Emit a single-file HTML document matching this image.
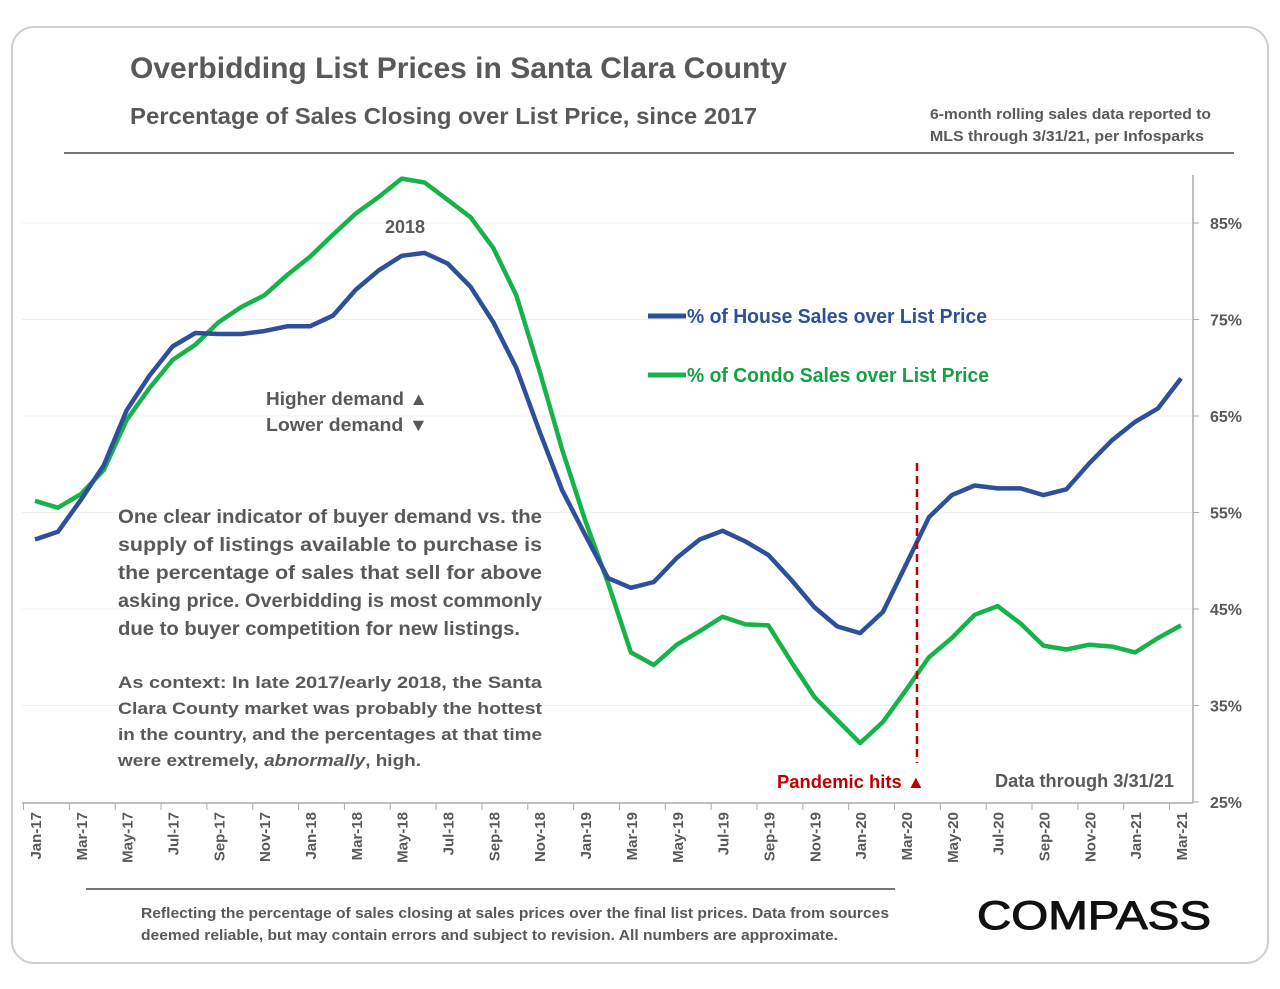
<!DOCTYPE html>
<html><head><meta charset="utf-8"><style>
body{margin:0;background:#fff;}
svg{display:block;font-family:"Liberation Sans","DejaVu Sans",sans-serif;}
</style></head><body>
<svg id="chart" width="1280" height="989" viewBox="0 0 1280 989">
<rect x="12" y="27" width="1256" height="936" rx="22" fill="#fff" stroke="#cfcfcf" stroke-width="2"/>
<text x="130" y="78" font-size="30" font-weight="bold" fill="#595959" textLength="657" lengthAdjust="spacingAndGlyphs">Overbidding List Prices in Santa Clara County</text>
<text x="130" y="124" font-size="23" font-weight="bold" fill="#595959" textLength="627" lengthAdjust="spacingAndGlyphs">Percentage of Sales Closing over List Price, since 2017</text>
<text x="930" y="119" font-size="14.5" font-weight="bold" fill="#595959" textLength="281" lengthAdjust="spacingAndGlyphs">6-month rolling sales data reported to</text>
<text x="930" y="141" font-size="14.5" font-weight="bold" fill="#595959" textLength="274" lengthAdjust="spacingAndGlyphs">MLS through 3/31/21, per Infosparks</text>
<line x1="64" y1="153" x2="1234" y2="153" stroke="#777" stroke-width="2"/>
<g id="grid"></g><g id="axes"></g><g id="series"></g>
<text x="385" y="233" font-size="18" font-weight="bold" fill="#595959">2018</text>
<text x="266" y="405" font-size="18" font-weight="bold" fill="#595959" textLength="162" lengthAdjust="spacingAndGlyphs">Higher demand ▲</text>
<text x="266" y="431" font-size="18" font-weight="bold" fill="#595959" textLength="162" lengthAdjust="spacingAndGlyphs">Lower demand ▼</text>
<g>
<line x1="648" y1="316" x2="686" y2="316" stroke="#2e4f9a" stroke-width="5"/>
<text x="687" y="323" font-size="20" font-weight="bold" fill="#2e4f9a" textLength="300" lengthAdjust="spacingAndGlyphs">% of House Sales over List Price</text>
<line x1="648" y1="375" x2="686" y2="375" stroke="#17b34a" stroke-width="5"/>
<text x="687" y="382" font-size="20" font-weight="bold" fill="#17a043" textLength="302" lengthAdjust="spacingAndGlyphs">% of Condo Sales over List Price</text>
</g>
<g font-size="19" font-weight="bold" fill="#595959">
<text x="118" y="523" textLength="424" lengthAdjust="spacingAndGlyphs">One clear indicator of buyer demand vs. the</text>
<text x="118" y="551" textLength="424" lengthAdjust="spacingAndGlyphs">supply of listings available to purchase is</text>
<text x="118" y="579" textLength="424" lengthAdjust="spacingAndGlyphs">the percentage of sales that sell for above</text>
<text x="118" y="607" textLength="424" lengthAdjust="spacingAndGlyphs">asking price. Overbidding is most commonly</text>
<text x="118" y="635" textLength="402" lengthAdjust="spacingAndGlyphs">due to buyer competition for new listings.</text>
</g>
<g font-size="17" font-weight="bold" fill="#595959">
<text x="118" y="688" textLength="424" lengthAdjust="spacingAndGlyphs">As context: In late 2017/early 2018, the Santa</text>
<text x="118" y="714" textLength="424" lengthAdjust="spacingAndGlyphs">Clara County market was probably the hottest</text>
<text x="118" y="740" textLength="424" lengthAdjust="spacingAndGlyphs">in the country, and the percentages at that time</text>
<text x="118" y="766" textLength="303" lengthAdjust="spacingAndGlyphs">were extremely, <tspan font-style="italic">abnormally</tspan>, high.</text>
</g>
<line x1="917" y1="463" x2="917" y2="763" stroke="#c00000" stroke-width="2.5" stroke-dasharray="8,5"/>
<text x="777" y="788" font-size="18" font-weight="bold" fill="#c00000" textLength="148" lengthAdjust="spacingAndGlyphs">Pandemic hits ▲</text>
<text x="995" y="787" font-size="18" font-weight="bold" fill="#595959" textLength="179" lengthAdjust="spacingAndGlyphs">Data through 3/31/21</text>
<line x1="86" y1="889" x2="895" y2="889" stroke="#777" stroke-width="2"/>
<text x="141" y="918" font-size="14.5" font-weight="bold" fill="#595959" textLength="748" lengthAdjust="spacingAndGlyphs">Reflecting the percentage of sales closing at sales prices over the final list prices. Data from sources</text>
<text x="141" y="940" font-size="14.5" font-weight="bold" fill="#595959" textLength="697" lengthAdjust="spacingAndGlyphs">deemed reliable, but may contain errors and subject to revision. All numbers are approximate.</text>
<text x="977" y="929" font-size="40" fill="#111" stroke="#111" stroke-width="1" textLength="234" lengthAdjust="spacingAndGlyphs">COMPASS</text>
</svg>
<script>
const months=["Jan","Feb","Mar","Apr","May","Jun","Jul","Aug","Sep","Oct","Nov","Dec"];
const categories=[];for(let y=17;y<=21;y++)for(let m=0;m<12;m++){if(y===21&&m>2)break;categories.push(months[m]+"-"+y);}
const houseValues=[52.2,53.0,56.3,59.9,65.6,69.2,72.2,73.6,73.5,73.5,73.8,74.3,74.3,75.4,78.1,80.1,81.6,81.9,80.8,78.4,74.7,70.0,63.5,57.3,52.7,48.2,47.2,47.8,50.3,52.2,53.1,52.0,50.6,48.0,45.2,43.2,42.5,44.7,49.6,54.5,56.8,57.8,57.5,57.5,56.8,57.4,60.1,62.5,64.4,65.8,68.9];
const condoValues=[56.2,55.5,56.9,59.4,64.6,67.9,70.8,72.4,74.7,76.3,77.5,79.6,81.5,83.8,86.0,87.7,89.6,89.2,87.4,85.6,82.4,77.5,69.8,61.5,54.2,47.7,40.5,39.2,41.3,42.7,44.2,43.4,43.3,39.5,35.9,33.5,31.1,33.3,36.6,40.0,42.0,44.4,45.3,43.5,41.2,40.8,41.3,41.1,40.5,42.0,43.3];
const yTicks=[25,35,45,55,65,75,85];
const NS="http://www.w3.org/2000/svg";
const xS=i=>35+i*(1181-35)/(categories.length-1);
const yS=v=>802-(v-25)*9.65;
function mk(t,a,p){const e=document.createElementNS(NS,t);for(const k in a)e.setAttribute(k,a[k]);p.appendChild(e);return e;}
const grid=document.getElementById('grid'),axes=document.getElementById('axes'),ser=document.getElementById('series');
yTicks.forEach(v=>{
 if(v>25){const g=mk('line',{x1:22,x2:1193,y1:yS(v),y2:yS(v),stroke:'#f0f0f0','stroke-width':1},grid);
 
 }
 const tk=mk('line',{x1:1193,x2:1199,y1:yS(v),y2:yS(v),stroke:'#aaa'},axes);
 
 
 const t=mk('text',{x:1210,y:yS(v)+6,'font-size':16,'font-weight':'bold',fill:'#595959'},axes);
 t.textContent=v+"%";
 
 
});
const ya=mk('line',{x1:1193,x2:1193,y1:175,y2:803,stroke:'#aaa','stroke-width':1.5},axes);


const xa=mk('line',{x1:22,x2:1193,y1:803,y2:803,stroke:'#aaa','stroke-width':1.5},axes);


const step=(xS(1)-xS(0));
categories.forEach((c,i)=>{
 if(i%2===0){
  const tx=xS(i)-step/2;
  const tk=mk('line',{x1:tx,x2:tx,y1:803,y2:810,stroke:'#aaa'},axes);
  
  
  const x=xS(i)+6;
  const t=mk('text',{x:x,y:812,'font-size':15,'font-weight':'bold',fill:'#595959','text-anchor':'end',transform:`rotate(-90 ${x} 812)`},axes);
  t.textContent=c;
  
  
 }
});
function line(vals,col,name){
 const d=vals.map((v,i)=>(i?'L':'M')+xS(i).toFixed(1)+','+yS(v).toFixed(1)).join(' ');
 const p=mk('path',{d:d,fill:'none',stroke:col,'stroke-width':4.5,'stroke-linejoin':'round'},ser);
 
 
}
line(condoValues,'#17b34a','condo-series-line');
line(houseValues,'#2e4f9a','house-series-line');
</script>
</body></html>
